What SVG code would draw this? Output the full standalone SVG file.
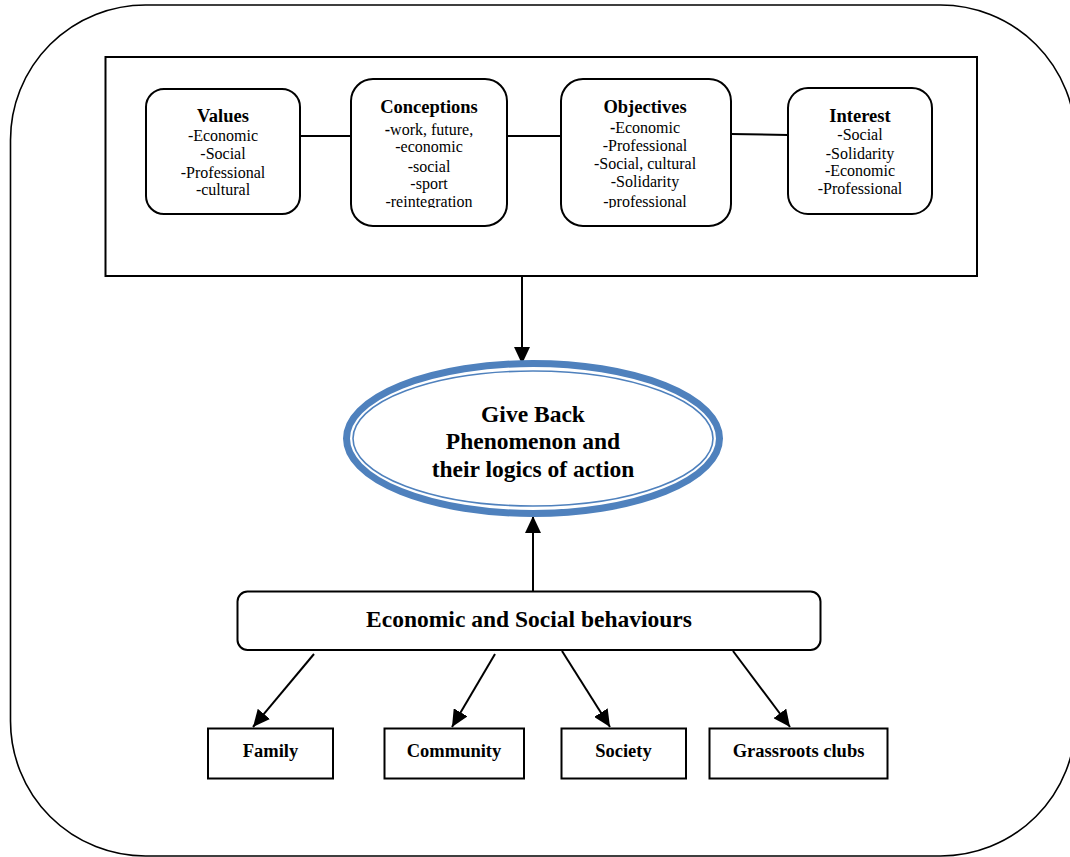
<svg xmlns="http://www.w3.org/2000/svg" width="1070" height="857" viewBox="0 0 1070 857">
<style>
text{font-family:"Liberation Serif","Times New Roman",serif;fill:#000;text-anchor:middle}
.t{font-weight:bold;font-size:18.5px}
.b{font-size:16px}
.box{fill:#fff;stroke:#000;stroke-width:2}
.ln{stroke:#000;stroke-width:2;fill:none}
.big{font-weight:bold;font-size:23.5px}
.leaf{font-weight:bold;font-size:18.5px}
</style>
<defs>
<marker id="ah" markerUnits="userSpaceOnUse" markerWidth="18" markerHeight="16" viewBox="0 0 18 16" refX="17" refY="8" orient="auto">
<path d="M0,0 L17,8 L0,16 Z" fill="#000"/>
</marker>
<clipPath id="clipC"><rect x="350" y="80" width="160" height="128"/></clipPath>
<clipPath id="clipO"><rect x="560" y="80" width="172" height="128"/></clipPath>
</defs>

<rect id="frame" x="10.5" y="5" width="1065" height="851" rx="135" ry="135" fill="none" stroke="#000" stroke-width="1.6"/>

<g id="panel">
<rect x="105.5" y="57" width="871.5" height="219" fill="none" stroke="#000" stroke-width="2"/>
</g>

<g id="connectors">
<line class="ln" x1="300" y1="136" x2="351" y2="136"/>
<line class="ln" x1="507" y1="136" x2="561" y2="136"/>
<line class="ln" x1="731" y1="134" x2="788" y2="135"/>
<line class="ln" x1="522" y1="276" x2="522" y2="364" marker-end="url(#ah)"/>
<line class="ln" x1="533" y1="591" x2="533" y2="516" marker-end="url(#ah)"/>
<line class="ln" x1="314" y1="654" x2="253" y2="727" marker-end="url(#ah)"/>
<line class="ln" x1="495" y1="654" x2="452" y2="727" marker-end="url(#ah)"/>
<line class="ln" x1="562" y1="651" x2="610" y2="727" marker-end="url(#ah)"/>
<line class="ln" x1="733" y1="651" x2="790" y2="727" marker-end="url(#ah)"/>
</g>

<g id="values">
<rect class="box" x="146" y="89" width="154" height="125" rx="18"/>
<text class="t" x="223" y="121.5">Values</text>
<text class="b" x="223" y="140.5">-Economic</text>
<text class="b" x="223" y="159">-Social</text>
<text class="b" x="223" y="177.5">-Professional</text>
<text class="b" x="223" y="194.5">-cultural</text>
</g>

<g id="conceptions">
<rect class="box" x="351" y="79" width="156" height="147" rx="22"/>
<text class="t" x="429" y="113">Conceptions</text>
<g clip-path="url(#clipC)">
<text class="b" x="429" y="135"><tspan font-weight="bold">-</tspan>work, future,</text>
<text class="b" x="429" y="152">-economic</text>
<text class="b" x="429" y="171.5">-social</text>
<text class="b" x="429" y="188.5">-sport</text>
<text class="b" x="429" y="206.5">-reintegration</text>
</g>
</g>

<g id="objectives">
<rect class="box" x="561" y="79" width="170" height="147" rx="22"/>
<text class="t" x="645" y="113">Objectives</text>
<g clip-path="url(#clipO)">
<text class="b" x="645" y="132.5"><tspan font-weight="bold">-</tspan>Economic</text>
<text class="b" x="645" y="150.5">-Professional</text>
<text class="b" x="645" y="169">-Social, cultural</text>
<text class="b" x="645" y="186.5">-Solidarity</text>
<text class="b" x="645" y="206.5">-professional</text>
</g>
</g>

<g id="interest">
<rect class="box" x="788" y="88" width="144" height="126" rx="20"/>
<text class="t" x="860" y="121.5">Interest</text>
<text class="b" x="860" y="140">-Social</text>
<text class="b" x="860" y="158.5">-Solidarity</text>
<text class="b" x="860" y="176">-Economic</text>
<text class="b" x="860" y="193.5">-Professional</text>
</g>

<g id="giveback">
<ellipse cx="533" cy="438.5" rx="186.5" ry="75" fill="#fff" stroke="#4f81bd" stroke-width="7"/>
<ellipse cx="533" cy="438.5" rx="180" ry="67.5" fill="none" stroke="#4f81bd" stroke-width="1.6"/>
<text class="big" x="533" y="421.5">Give Back</text>
<text class="big" x="533" y="449">Phenomenon and</text>
<text class="big" x="533" y="476.5">their logics of action</text>
</g>

<g id="behaviours">
<rect class="box" x="237.5" y="591.5" width="583" height="58.5" rx="10"/>
<text class="big" x="529" y="626.5">Economic and Social behaviours</text>
</g>

<g id="family">
<rect class="box" x="208" y="728.5" width="125" height="50"/>
<text class="leaf" x="270.5" y="756.5">Family</text>
</g>
<g id="community">
<rect class="box" x="384.5" y="728.5" width="139.5" height="50"/>
<text class="leaf" x="454" y="756.5">Community</text>
</g>
<g id="society">
<rect class="box" x="561.5" y="728.5" width="124.5" height="50"/>
<text class="leaf" x="623.5" y="756.5">Society</text>
</g>
<g id="grassroots">
<rect class="box" x="709.5" y="728.5" width="178" height="50"/>
<text class="leaf" x="798.5" y="756.5">Grassroots clubs</text>
</g>
</svg>
